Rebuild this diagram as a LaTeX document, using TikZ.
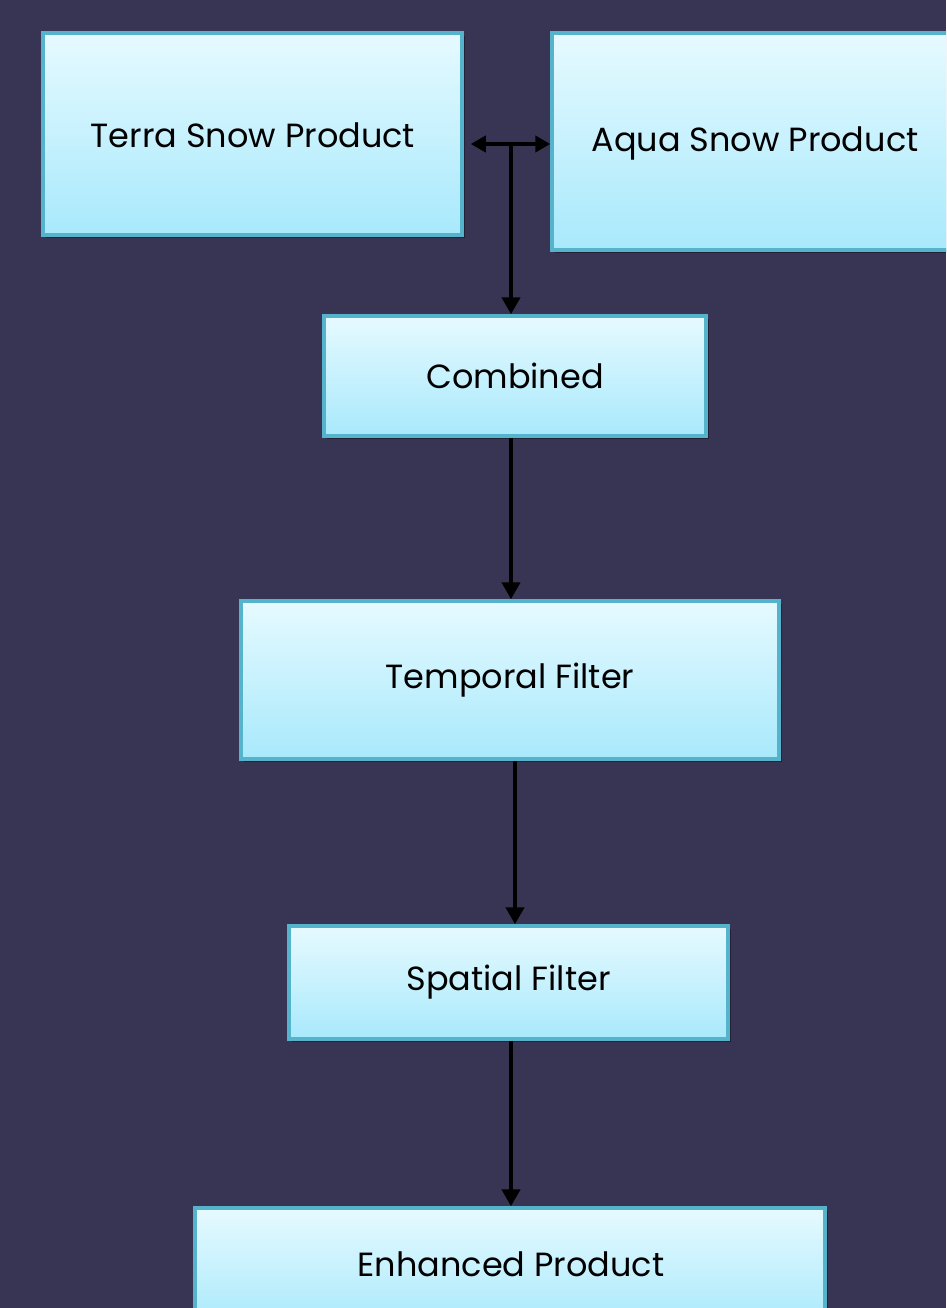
\documentclass[tikz,border=0pt]{standalone}
\usepackage{fontspec}
\setmainfont{Poppins}
\usetikzlibrary{arrows.meta,shadows}
\definecolor{bg}{HTML}{383453}
\definecolor{boxtop}{HTML}{E6FAFF}
\definecolor{boxbot}{HTML}{A8E9FC}
\definecolor{boxline}{HTML}{55B3CB}
\tikzset{
  flowbox/.style={draw=boxline, line width=3.5pt, top color=boxtop, bottom color=boxbot,
    drop shadow={shadow xshift=3pt, shadow yshift=-3pt, opacity=0.35, fill=black},
    inner sep=0pt, font=\fontsize{33.5}{38}\selectfont, text=black},
  lbl/.style={font=\fontsize{33.5}{38}\selectfont, text=black},
  conn/.style={draw=black, line width=4.5pt, -{Triangle[length=17pt,width=18pt]}},
  conn2/.style={draw=black, line width=4.5pt, {Triangle[length=15pt,width=16pt]}-{Triangle[length=15pt,width=16pt]}}
}
\begin{document}
\begin{tikzpicture}[x=1pt,y=-1pt]
\useasboundingbox (0,0) rectangle (946,1308);
\fill[bg] (0,0) rectangle (946,1308);
\clip (0,0) rectangle (946,1308);
\node[flowbox, minimum width=419pt, minimum height=202pt] (terra) at (252.5,134) {};
\node[lbl] at (253,135) {Terra Snow Product};
\node[flowbox, minimum width=410pt, minimum height=217pt] (aqua) at (757,141.5) {};
\node[lbl] at (755,143) {Aqua Snow Product};
\node[flowbox, minimum width=382pt, minimum height=120pt] (comb) at (515,376) {Combined};
\node[flowbox, minimum width=538pt, minimum height=158pt] (temp) at (510,680) {Temporal Filter};
\node[flowbox, minimum width=439pt, minimum height=113pt] (spat) at (508.5,982.5) {Spatial Filter};
\node[flowbox, minimum width=630pt, minimum height=120pt] (enh) at (510,1268) {};
\node[lbl] at (511,1264) {Enhanced Product};
\coordinate (j) at (511,144);
\draw[conn2] ([xshift=7pt]terra.east |- j) -- (aqua.west |- j);
\draw[conn] (j) -- (j |- comb.north);
\draw[conn] (comb.south -| j) -- (temp.north -| j);
\draw[conn] ([xshift=5pt]temp.south) -- ([xshift=5pt]temp.south |- spat.north);
\draw[conn] (spat.south -| j) -- (enh.north -| j);
\end{tikzpicture}
\end{document}
